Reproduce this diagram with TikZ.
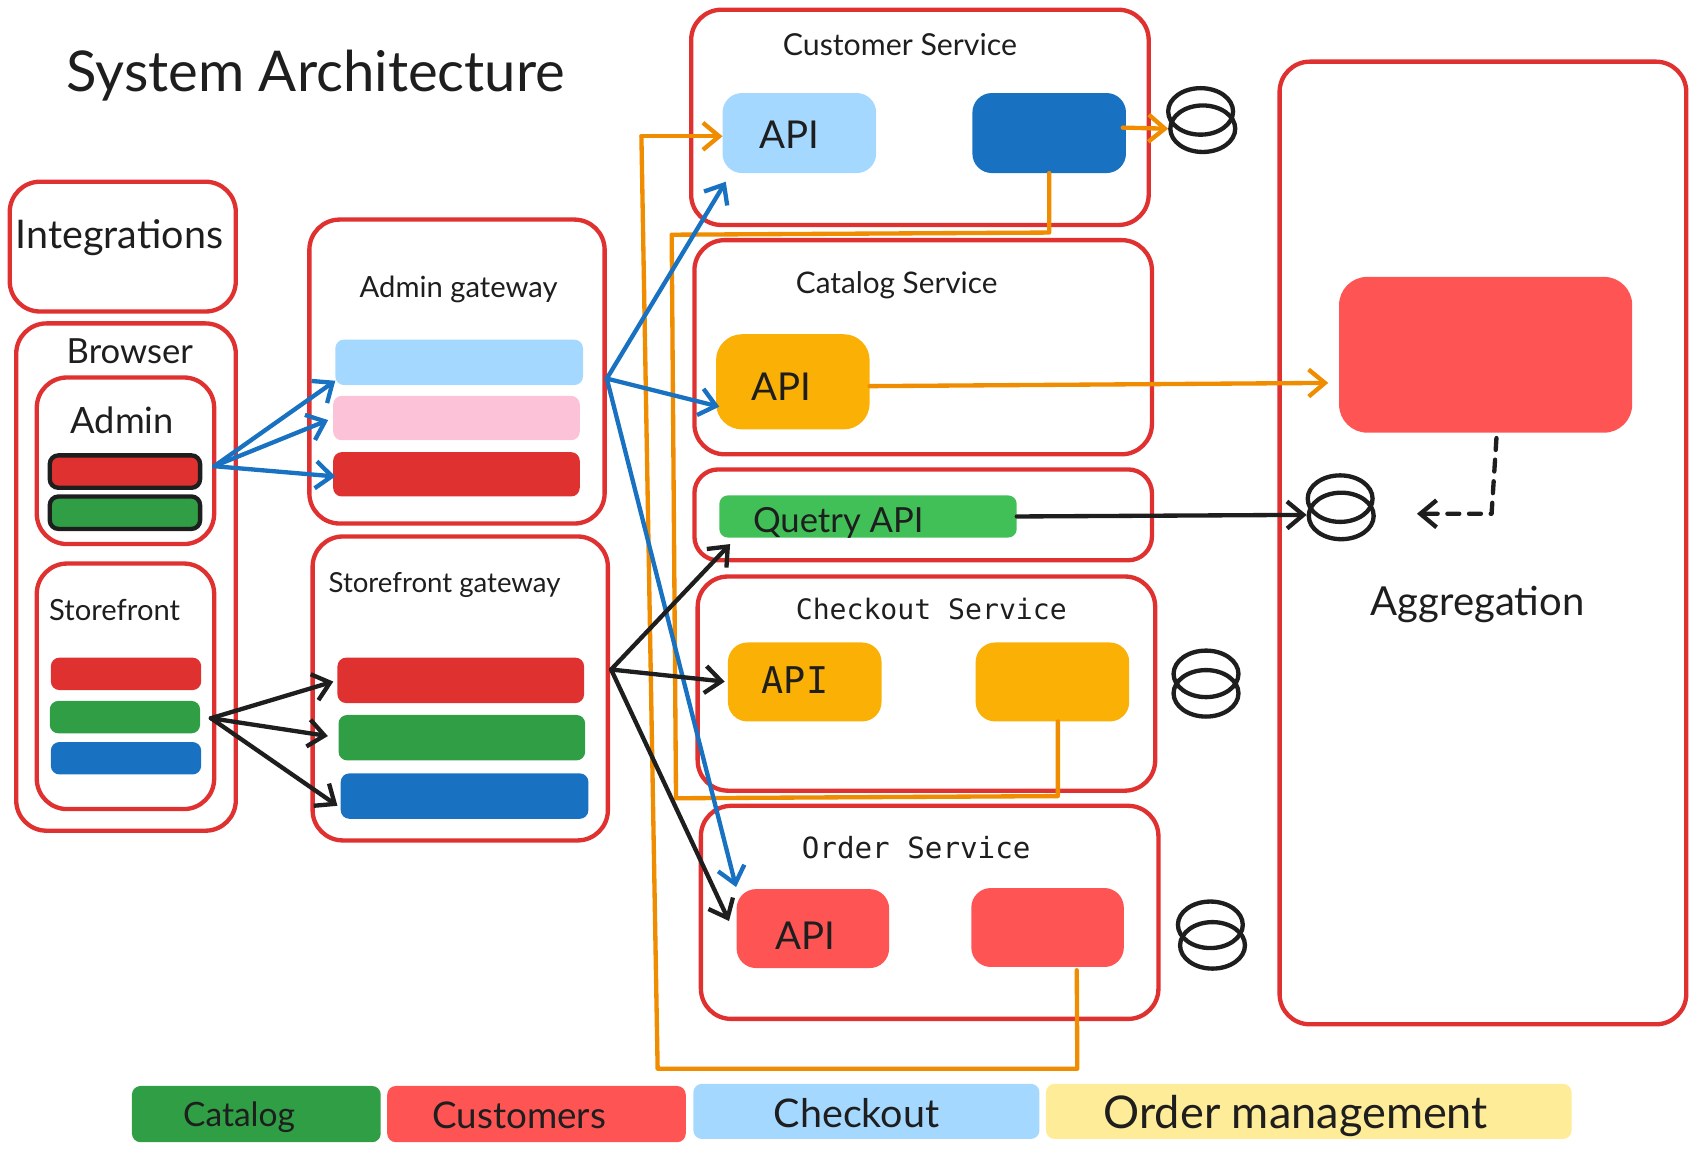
\documentclass[tikz,border=0pt]{standalone}
\usepackage{fontspec}
\setmainfont{Lato}
\newfontfamily\handfont{DejaVu Sans Mono}
\usetikzlibrary{arrows.meta,shapes.geometric}
\definecolor{linered}{HTML}{E03131}
\definecolor{linkblue}{HTML}{1971C2}
\definecolor{paleblue}{HTML}{A5D8FF}
\definecolor{palepink}{HTML}{FCC2D7}
\definecolor{darkgreen}{HTML}{2F9E44}
\definecolor{lightgreen}{HTML}{40C057}
\definecolor{amber}{HTML}{FAB005}
\definecolor{linkorange}{HTML}{F08C00}
\definecolor{salmon}{HTML}{FF5454}
\definecolor{paleyellow}{HTML}{FFEC99}
\definecolor{ink}{HTML}{1E1E1E}
\newcommand{\fsize}[1]{\fontsize{#1}{#1}\selectfont}
\begin{document}
\begin{tikzpicture}[x=1pt,y=-1pt,text=ink,
	sized/.style 2 args={minimum width=#1pt,minimum height=#2pt,inner sep=0pt,outer sep=0pt}]
	\tikzstyle{frame}=[draw=linered,line width=4pt,rounded corners=28pt]
	\tikzstyle{block}=[rounded corners=18pt]
	\tikzstyle{bar}=[rounded corners=8pt]
	\tikzstyle{outlined}=[bar,draw=ink,line width=4pt]
	\tikzstyle{ring}=[ellipse,draw=ink,line width=4pt,minimum width=60pt,minimum height=43pt,inner sep=0pt]
	\tikzstyle{small}=[inner sep=0pt,font=\fsize{27}]
	\tikzstyle{hand}=[inner sep=0pt,font=\handfont\fsize{27}]
	\tikzstyle{api}=[inner sep=0pt,font=\fsize{35.5}]
	\tikzstyle{wire}=[line width=4pt,line cap=round,line join=round]
	\tikzstyle{arrow}=[wire,-{Straight Barb[length=15pt,width=25pt]}]

	\useasboundingbox (0,0) rectangle (1568,1065.06);

	% title and left column
	\node[inner sep=0pt,font=\fsize{52}] (title) at (292,70) {System Architecture};
	\node[frame,sized={209}{120}] (integrations) at (113.5,228) {};
	\node[inner sep=0pt,font=\fsize{36.5}] (integrationstxt) at (110.5,220) {Integrations};
	\node[frame,sized={203}{469}] (browser) at (116.5,533.5) {};
	\node[inner sep=0pt,font=\fsize{32}] (browsertxt) at (120,325) {Browser};
	\node[frame,sized={164}{154}] (admin) at (116,426) {};
	\node[inner sep=0pt,font=\fsize{33.5}] (admintxt) at (113,389) {Admin};
	\node[outlined,fill=linered,sized={139}{30}] (adminred) at (115.5,436) {};
	\node[outlined,fill=darkgreen,sized={139}{30}] (admingreen) at (115.5,474) {};
	\node[frame,sized={164}{227}] (store) at (116,634.5) {};
	\node[small] (storetxt) at (106,564) {Storefront};
	\node[bar,fill=linered,sized={139}{30}] (storered) at (116.5,623) {};
	\node[bar,fill=darkgreen,sized={139}{30}] (storegreen) at (115.5,663) {};
	\node[bar,fill=linkblue,sized={139}{30}] (storeblue) at (116.5,701) {};

	% gateways
	\node[frame,sized={273}{281}] (admingw) at (422.5,343.5) {};
	\node[small] (admingwtxt) at (424,268) {Admin gateway};
	\node[bar,fill=paleblue,sized={229}{42}] (adlight) at (424.5,335) {};
	\node[bar,fill=palepink,sized={228}{41}] (adpink) at (422,386.5) {};
	\node[bar,fill=linered,sized={228}{41}] (adred) at (422,438.5) {};
	\node[frame,sized={273}{281}] (storegw) at (425.5,636.5) {};
	\node[small,font=\fsize{25.5}] (storegwtxt) at (411,541) {Storefront gateway};
	\node[bar,fill=linered,sized={228}{42}] (sgred) at (426,629) {};
	\node[bar,fill=darkgreen,sized={228}{42}] (sggreen) at (427,682) {};
	\node[bar,fill=linkblue,sized={229}{42}] (sgblue) at (429.5,736) {};

	% services
	\node[frame,sized={423}{199}] (cust) at (850.5,108.5) {};
	\node[small,font=\fsize{28}] (custtxt) at (832,41) {Customer Service};
	\node[block,fill=paleblue,sized={142}{74}] (custapi) at (739,123) {};
	\node[api] (custapitxt) at (730,125) {API};
	\node[block,fill=linkblue,sized={142}{74}] (custcore) at (970,123) {};
	\node[ring] (custdbtop) at (1110,103) {};
	\node[ring] (custdb) at (1112,119) {};

	\node[frame,sized={423}{198}] (cat) at (853.5,321) {};
	\node[small,font=\fsize{27.5}] (cattxt) at (829,264) {Catalog Service};
	\node[block,rounded corners=24pt,fill=amber,sized={142}{88}] (catapi) at (733,353) {};
	\node[api] (catapitxt) at (722,358) {API};

	\node[frame,rounded corners=22pt,sized={423}{84}] (query) at (853.5,476) {};
	\node[bar,fill=lightgreen,sized={275}{39}] (queryapi) at (802.5,477.5) {};
	\node[api,font=\fsize{32}] (queryapitxt) at (775,483) {Quetry API};

	\node[frame,sized={423}{198}] (chk) at (856.5,632) {};
	\node[hand,font=\handfont\fsize{26}] (chktxt) at (861,563) {Checkout Service};
	\node[block,fill=amber,sized={142}{73}] (chkapi) at (744,630.5) {};
	\node[api,font=\handfont\fsize{34}] (chkapitxt) at (735,629) {API};
	\node[block,fill=amber,sized={142}{73}] (chkcore) at (973,630.5) {};
	\node[ring] (chkdbtop) at (1115,623) {};
	\node[ring] (chkdb) at (1115,641) {};

	\node[frame,sized={423}{197}] (ord) at (859.5,843.5) {};
	\node[hand] (ordtxt) at (847,784) {Order Service};
	\node[block,fill=salmon,sized={141}{73}] (ordapi) at (751.5,858.5) {};
	\node[api] (ordapitxt) at (745,865) {API};
	\node[block,fill=salmon,sized={141}{73}] (ordcore) at (968.5,857.5) {};
	\node[ring] (orddbtop) at (1119,855) {};
	\node[ring] (orddb) at (1121,874) {};

	% aggregation
	\node[frame,sized={376}{890}] (agg) at (1371,502) {};
	\node[block,rounded corners=26pt,fill=salmon,sized={271}{144}] (aggcore) at (1373.5,328) {};
	\node[ring] (aggdbtop) at (1239,461) {};
	\node[ring] (aggdb) at (1240,477) {};
	\node[inner sep=0pt,font=\fsize{37}] (aggtxt) at (1366,559) {Aggregation};

	% legend
	\node[bar,fill=darkgreen,sized={230}{52}] (lgcatalog) at (237,1030) {};
	\node[inner sep=0pt,font=\fsize{31}] at (221,1033) (lgcatalogtxt) {Catalog};
	\node[bar,fill=salmon,sized={276}{52}] (lgcust) at (496,1030) {};
	\node[inner sep=0pt,font=\fsize{34}] at (480,1031) (lgcusttxt) {Customers};
	\node[bar,fill=paleblue,sized={320}{51}] (lgcheck) at (801,1027.5) {};
	\node[inner sep=0pt,font=\fsize{36.5}] at (792,1029) (lgchecktxt) {Checkout};
	\node[bar,fill=paleyellow,sized={486}{51}] (lgorder) at (1210,1027.5) {};
	\node[inner sep=0pt,font=\fsize{41.7}] at (1198,1032) (lgordertxt) {Order management};

	% free ends and bends
	\coordinate (adminout) at (198,431);
	\coordinate (storeout) at (195,664);
	\coordinate (adminhub) at (561,350);
	\coordinate (storehub) at (565,619);
	\coordinate (feedtop) at (593,126);
	\coordinate (feedbot) at (608,988);
	\coordinate (feedend) at (996,988);
	\coordinate (custbus) at (970,215);
	\coordinate (busleft) at (621,217);
	\coordinate (buslow) at (625,738);
	\coordinate (chkbus) at (978,736);
	\coordinate (aggin) at (1228,354);
	\coordinate (aggbend) at (1379,475);
	\coordinate (aggend) at (1310,475);

	% orange links
	\draw[wire,draw=linkorange] (custcore.south) -- (custbus) -- (busleft) -- (buslow) -- (chkbus) -- ([xshift=5pt]chkcore.south);
	\draw[wire,draw=linkorange] ([xshift=27pt,yshift=-3pt]ordcore.south) -- (feedend) -- (feedbot) -- (feedtop);
	\draw[arrow,draw=linkorange] (feedtop) -- ([yshift=-3pt]custapi.west);
	\draw[arrow,draw=linkorange] ([xshift=-3pt,yshift=5pt]custcore.east) -- (custdb.west);
	\draw[arrow,draw=linkorange] ([yshift=-4pt]catapi.east) -- (aggin);

	% blue links
	\draw[arrow,draw=linkblue] (adminout) -- ([yshift=4pt]adlight.south west);
	\draw[arrow,draw=linkblue,shorten >=5pt] (adminout) -- (adpink.west);
	\draw[arrow,draw=linkblue] (adminout) -- ([xshift=2pt,yshift=-2pt]adred.west);
	\draw[arrow,draw=linkblue] (adminhub) -- ([xshift=3pt,yshift=-8pt]custapi.south west);
	\draw[arrow,draw=linkblue] (adminhub) -- ([xshift=3pt,yshift=-23pt]catapi.west);
	\draw[arrow,draw=linkblue,shorten >=2pt] (adminhub) -- (ordapi.north west);

	% black links
	\draw[arrow,draw=ink,shorten >=4pt] (storeout) -- (sgred.west);
	\draw[arrow,draw=ink,shorten >=10pt] (storeout) -- (sggreen.west);
	\draw[arrow,draw=ink] (storeout) -- ([xshift=-3pt,yshift=-9pt]sgblue.west);
	\draw[arrow,draw=ink] (storehub) -- ([xshift=10pt,yshift=-6pt]queryapi.south west);
	\draw[arrow,draw=ink,shorten >=3pt] (storehub) -- (chkapi.west);
	\draw[arrow,draw=ink] (storehub) -- ([xshift=-7pt,yshift=7pt]ordapi.west);
	\draw[arrow,draw=ink] (queryapi.east) -- ([yshift=1pt]aggdb.west);
	\draw[arrow,draw=ink,dash pattern=on 11pt off 9pt] ([xshift=10pt,yshift=-5pt]aggcore.south) -- (aggbend) -- (aggend);
\end{tikzpicture}
\end{document}
